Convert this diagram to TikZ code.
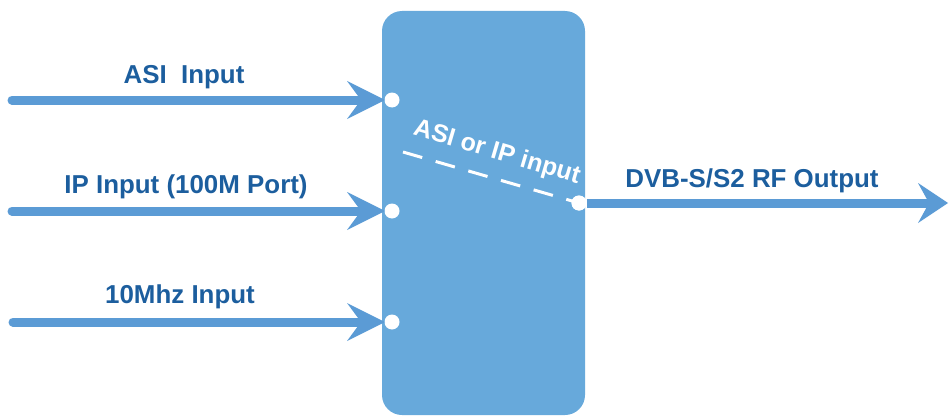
\documentclass[tikz,border=0pt]{standalone}
\usepackage{fontspec}
\setmainfont{Liberation Sans}
\usepackage{tikz}
\usetikzlibrary{arrows.meta, calc, positioning}
\definecolor{boxblue}{HTML}{67A9DB}
\definecolor{lineblue}{HTML}{5B9BD5}
\definecolor{textblue}{HTML}{1C5E9E}
\newcommand\feedline[2]{
    \draw [feed] (#1) -- (#2);
}
\tikzstyle{modulator} = [rectangle,fill=boxblue,rounded corners=20pt,minimum width=203pt,minimum height=404pt,inner sep=0pt]
\tikzstyle{port}      = [circle,fill=white,minimum size=15pt,inner sep=0pt]
\tikzstyle{feed}      = [lineblue,line width=9pt,line cap=round,shorten >=7pt,-{Stealth[length=38pt,width=38pt,inset=14pt,line width=0pt]}]
\tikzstyle{outfeed}   = [lineblue,line width=9pt,-{Stealth[length=30pt,width=40pt,inset=11pt,line width=0pt]}]
\tikzstyle{labeltext} = [text=textblue,font=\fontsize{25.9}{30}\selectfont\bfseries,inner sep=0pt]
\tikzstyle{seltext}   = [text=white,font=\fontsize{25}{29}\selectfont\bfseries,inner sep=0pt]
\tikzstyle{selline}   = [white,line width=3pt,dash pattern=on 20pt off 14pt]

\begin{document}
\begin{tikzpicture}[x=1pt,y=1pt]
        \useasboundingbox (0,0) rectangle (950,416);

        \node[modulator]             (mod)       at (483.5,203)  {};
        \node[port]                  (asi dot)   at (392,316)    {};
        \node[port]                  (ip dot)    at (392,205)    {};
        \node[port]                  (ref dot)   at (392,94)     {};
        \node[port]                  (out dot)   at (579,213)    {};

        \coordinate                  (asi start) at (12,316);
        \coordinate                  (ip start)  at (12,205);
        \coordinate                  (ref start) at (13,94);
        \coordinate                  (out end)   at (948,213);
        \coordinate                  (sel start) at (403,264);

        \node[labeltext]             (asi label) at (184,339)    {ASI\ \ Input};
        \node[labeltext]             (ip label)  at (186,229)    {IP Input (100M Port)};
        \node[labeltext]             (ref label) at (180,119)    {10Mhz Input};
        \node[labeltext]             (out label) at (752,235)    {DVB-S/S2 RF Output};
        \node[seltext,rotate=-16.5,anchor=base] (sel label) at (495,257) {ASI or IP input};

        \feedline{asi start}{asi dot.center}
        \feedline{ip start}{ip dot.center}
        \feedline{ref start}{ref dot.center}
        \draw[outfeed] (out dot.east) -- (out end);
        \draw[selline] (sel start) -- (out dot.center);
        \node[port] at (out dot) {};
    \end{tikzpicture}
\end{document}
